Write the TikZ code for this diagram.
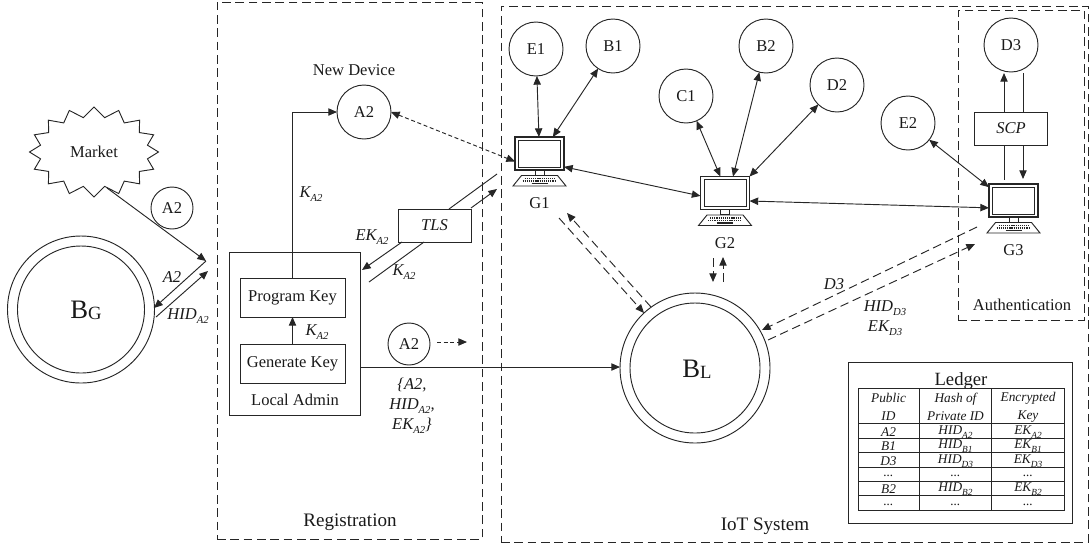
\documentclass[tikz,border=0pt]{standalone}
\usepackage{fontspec}
\setmainfont{Liberation Serif}
\usetikzlibrary{arrows.meta,shapes.symbols}
\newcommand{\sbs}[1]{\raisebox{-0.5ex}{\fontsize{8}{8}\selectfont #1}}
\newcommand{\sbt}[1]{\raisebox{-0.7ex}{\fontsize{7}{7}\selectfont #1}}
\def\pxu{*0.75pt}
\tikzset{
  every node/.style={inner sep=0pt,outer sep=0pt,font=\fontsize{12.4}{14}\selectfont,text=black!90},
  line/.style={line width=0.7pt,draw=black!85},
  arr/.style={line,-{Triangle[length=6.5pt,width=5.5pt]}},
  darr/.style={line,{Triangle[length=6.5pt,width=5.5pt]}-{Triangle[length=6.5pt,width=5.5pt]}},
  dsh/.style={dash pattern=on 6.5pt off 3.5pt},
  zone/.style={line,dsh},
  smallc/.style={circle,line,draw,minimum size=42\pxu},
  bigc/.style={circle,line,draw,minimum size=54\pxu},
  keybox/.style={rectangle,line,draw,minimum width=105\pxu,minimum height=39\pxu},
  proto/.style={rectangle,line,draw,minimum width=73\pxu,minimum height=33\pxu,font=\fontsize{12.4}{14}\selectfont\itshape},
  lab/.style={font=\fontsize{12.4}{14}\selectfont\itshape,align=center},
  tcell/.style={font=\fontsize{10}{13.5}\selectfont\itshape,align=center},
  monitor/.style={rectangle,line,draw,line width=0.8pt,minimum width=49\pxu,minimum height=33\pxu},
}
\newcommand{\computer}[4]{%
  \begin{scope}[shift={(#2,#3)}]
    \node[monitor] (#1) at (0,0) {};
    \draw[line] (-21,-13.5) rectangle (21,13.5);
    \draw[line] (-4.5,16.5) rectangle (4.5,21.5);
    \draw[line] (-26.5,32.5) -- (-18,22) -- (18,22) -- (26.5,32.5) -- cycle;
    \draw[line,line width=1.1pt,dash pattern=on 0.9pt off 0.7pt] (-15,25) -- (15,25);
    \draw[line,line width=1.1pt,dash pattern=on 0.9pt off 0.7pt] (-17,27.5) -- (17,27.5);
    \draw[line,line width=0.9pt] (-8,30) -- (8,30);
    \node (#1label) at (0,50) {#4};
  \end{scope}
}
\begin{document}
\begin{tikzpicture}[x=0.75pt,y=-0.75pt]
\useasboundingbox (0,0) rectangle (1091,544);
% zones
\node[rectangle,zone,draw,minimum width=265\pxu,minimum height=537\pxu] (reg) at (349.5,270.5) {};
\node[rectangle,zone,draw,minimum width=587\pxu,minimum height=536\pxu] (iot) at (794.5,274) {};
\node[rectangle,zone,draw,minimum width=126\pxu,minimum height=310\pxu] (auth) at (1021,165) {};
\node (regt) at (350,522) {\fontsize{14.3}{16}\selectfont Registration};
\node (iott) at (765,526) {\fontsize{14.3}{16}\selectfont IoT System};
\node (autht) at (1022,305) {Authentication};
% market
\node[starburst,starburst points=16,starburst point height=7.5pt,random starburst=0,line,draw,minimum width=96.75pt,minimum height=67.5pt] (market) at (94,152) {};
\node (markett) at (94,152) {Market};
\coordinate (gate) at (206,261);
\coordinate (marketout) at (107,188);
\draw[arr] (marketout) -- (gate);
\node[smallc] (a2m) at (172,208) {A2};
% BG
\node[circle,line,draw,minimum size=147\pxu] (bg) at (81,309.5) {};
\node[circle,line,draw,minimum size=127\pxu] (bgi) at (81,309.5) {};
\node (bgt) at (86,310) {\fontsize{20}{22}\selectfont B\raisebox{-0.1ex}{\fontsize{14}{14}\selectfont G}};
\coordinate (bgin) at (154,308);
\coordinate (bgout) at (156,317);
\coordinate (gate2) at (208,271);
\draw[arr] (gate) -- (bgin);
\draw[arr] (bgout) -- (gate2);
\node[lab] (la2) at (172,277) {A2};
\node[lab] (lhid) at (188,316) {HID\sbs{A2}};
% local admin
\node[rectangle,line,draw,minimum width=131\pxu,minimum height=163\pxu] (admin) at (294.5,333.5) {};
\node[keybox] (prog) at (292.5,297.5) {Program Key};
\node[keybox] (gen) at (292.5,363.5) {Generate Key};
\node (admint) at (295,400) {Local Admin};
\draw[arr] (gen) -- (prog);
\node[lab] (k1) at (317,332) {K\sbs{A2}};
% new device
\node[bigc] (a2n) at (364,112) {A2};
\node (newd) at (354,70) {New Device};
\draw[arr] (prog.north) |- (a2n.west);
\node[lab] (k2) at (311,194) {K\sbs{A2}};
% TLS
\node[proto] (tls) at (434.5,225.5) {TLS};
\coordinate (t1) at (449,209);
\coordinate (t2) at (497,174);
\coordinate (t3) at (471,208);
\coordinate (t4) at (497,189);
\coordinate (t5) at (402,242);
\coordinate (t6) at (362,270);
\coordinate (t7) at (424,242);
\coordinate (t8) at (369,282);
\draw[line] (t1) -- (t2);
\draw[arr] (t3) -- (t4);
\draw[arr] (t5) -- (t6);
\draw[line] (t7) -- (t8);
\node[lab] (ek1) at (372,237) {EK\sbs{A2}};
\node[lab] (k3) at (404,272) {K\sbs{A2}};
% computers
\computer{g1}{539.5}{153.5}{G1}
\computer{g2}{725}{193}{G2}
\computer{g3}{1013.5}{200.5}{G3}
\node[bigc] (e1) at (536,49) {E1};
\node[bigc] (b1) at (613,46) {B1};
\node[bigc] (c1) at (686,96) {C1};
\node[bigc] (b2) at (766,46) {B2};
\node[bigc] (d2) at (837,85) {D2};
\node[bigc] (e2) at (908,123) {E2};
\node[bigc] (d3) at (1011,45) {D3};
\draw[darr] (e1) -- (g1);
\draw[darr] (b1) -- ([xshift=10pt]g1.north);
\draw[darr] (c1) -- ([xshift=-3.5pt]g2.north);
\draw[darr] (b2) -- ([xshift=6pt]g2.north);
\draw[darr] (d2) -- (g2.north east);
\draw[darr] (e2) -- ([yshift=10pt]g3.west);
\draw[darr] ([yshift=-10pt]g1.east) -- ([yshift=-2.2pt]g2.west);
\draw[darr] ([yshift=-6pt]g2.east) -- ([yshift=-5.5pt]g3.west);
\draw[darr,dash pattern=on 3pt off 2pt] (a2n.east) -- ([yshift=-6pt]g1.west);
% SCP
\node[proto] (scp) at (1011,128.5) {SCP};
\coordinate (s1) at (1004,112);
\coordinate (s2) at (1004,73);
\coordinate (s3) at (1023,73);
\coordinate (s4) at (1023,112);
\coordinate (s5) at (1004,145);
\coordinate (s6) at (1004,180);
\coordinate (s7) at (1023,145);
\coordinate (s8) at (1023,179);
\draw[arr] (s1) -- (s2);
\draw[line] (s3) -- (s4);
\draw[line] (s5) -- (s6);
\draw[arr] (s7) -- (s8);
% BL
\node[circle,line,draw,minimum size=150\pxu] (bl) at (695,368) {};
\node[circle,line,draw,minimum size=130\pxu] (bli) at (695,368) {};
\node (blt) at (697,369) {\fontsize{20}{22}\selectfont B\raisebox{-0.1ex}{\fontsize{14}{14}\selectfont L}};
\draw[arr] (admin.east |- 0,367) -- (bl.west |- 0,367);
\node[smallc] (a2r) at (409,344) {A2};
\coordinate (r1) at (437,342);
\coordinate (r2) at (467,342);
\draw[arr,dash pattern=on 3pt off 2pt] (r1) -- (r2);
\node[lab] (set) at (412,406) {\{A2,\\[1pt]HID\sbs{A2},\\[1pt]EK\sbs{A2}\}};
% dashed to gateways
\coordinate (d1) at (651,307);
\coordinate (d2a) at (567,213);
\coordinate (d3a) at (559,218);
\coordinate (d4) at (644,313);
\draw[arr,dsh] (d1) -- (d2a);
\draw[arr,dsh] (d3a) -- (d4);
\coordinate (d5) at (713,258);
\coordinate (d6) at (713,282);
\coordinate (d7) at (723,282);
\coordinate (d8) at (723,257);
\draw[arr,dsh] (d5) -- (d6);
\draw[arr,dsh] (d7) -- (d8);
\coordinate (d9) at (977,227);
\coordinate (d10) at (762,330);
\coordinate (d11) at (768,340);
\coordinate (d12) at (975,244);
\draw[arr,dsh] (d9) -- (d10);
\draw[arr,dsh] (d11) -- (d12);
\node[lab] (ld3) at (834,284) {D3};
\node[lab] (lhd3) at (885,308) {HID\sbs{D3}};
\node[lab] (led3) at (885,328) {EK\sbs{D3}};
% ledger
\node[rectangle,line,draw,minimum width=224\pxu,minimum height=160.5\pxu] (ledger) at (960,443) {};
\node (ledgert) at (961,381) {\fontsize{14}{16}\selectfont Ledger};
\draw[line] (858,388) rectangle (1064.5,510);
\draw[line] (919.5,388) -- (919.5,510);
\draw[line] (991,388) -- (991,510);
\foreach \yy in {423,438,452,467,481,495} \draw[line] (858,\yy) -- (1064.5,\yy);
\node[tcell] (h1) at (888.5,407) {Public\\ID};
\node[tcell] (h2) at (955.5,407) {Hash of\\Private ID};
\node[tcell] (h3) at (1028,407) {Encrypted\\Key};
\node[tcell] (c11) at (888.5,432) {A2};
\node[tcell] (c12) at (955.5,432) {HID\sbt{A2}};
\node[tcell] (c13) at (1028,432) {EK\sbt{A2}};
\node[tcell] (c21) at (888.5,446) {B1};
\node[tcell] (c22) at (955.5,446) {HID\sbt{B1}};
\node[tcell] (c23) at (1028,446) {EK\sbt{B1}};
\node[tcell] (c31) at (888.5,461) {D3};
\node[tcell] (c32) at (955.5,461) {HID\sbt{D3}};
\node[tcell] (c33) at (1028,461) {EK\sbt{D3}};
\node[tcell] (c41) at (888.5,476) {...};
\node[tcell] (c42) at (955.5,476) {...};
\node[tcell] (c43) at (1028,476) {...};
\node[tcell] (c51) at (888.5,489) {B2};
\node[tcell] (c52) at (955.5,489) {HID\sbt{B2}};
\node[tcell] (c53) at (1028,489) {EK\sbt{B2}};
\node[tcell] (c61) at (888.5,505) {...};
\node[tcell] (c62) at (955.5,505) {...};
\node[tcell] (c63) at (1028,505) {...};
\end{tikzpicture}
\end{document}
